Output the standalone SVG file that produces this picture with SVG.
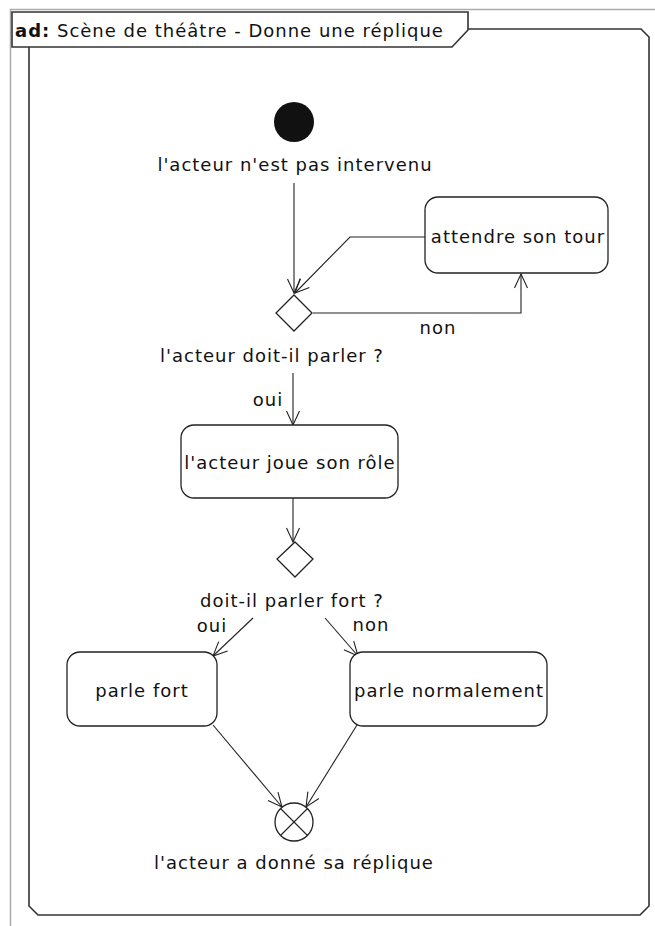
<svg xmlns="http://www.w3.org/2000/svg" width="655" height="926" viewBox="0 0 655 926">
<style>
text{font-family:"DejaVu Sans","Liberation Sans",sans-serif;font-size:18px;letter-spacing:1px;fill:#111;}
.t{text-anchor:middle;dominant-baseline:central;}
.box{fill:#fff;stroke:#222;stroke-width:1.3;}
.ln{fill:none;stroke:#222;stroke-width:1.1;}
.frame{fill:none;stroke:#333;stroke-width:1.6;}
</style>
<defs>
<marker id="arr" markerUnits="userSpaceOnUse" markerWidth="16" markerHeight="16" viewBox="0 0 16 16" refX="15" refY="8" orient="auto">
<path d="M1,1.5 L15,8 L1,14.5" fill="none" stroke="#222" stroke-width="1.1"/>
</marker>
</defs>
<rect x="0" y="0" width="655" height="926" fill="#fff"/>
<g id="outer">
<line x1="10" y1="9.5" x2="655" y2="9.5" stroke="#aaa" stroke-width="1.5"/>
<line x1="10.5" y1="9" x2="10.5" y2="926" stroke="#aaa" stroke-width="1.5"/>
</g>
<g id="frame">
<path class="frame" d="M29,47 L29,906 L38,915 L640,915 L649,906 L649,37 L641,29 L468,29"/>
<path class="frame" d="M12,12 L468,12 L468,30 L452,47 L12,47 Z" fill="#fff"/>
<text x="15" y="30" style="dominant-baseline:central"><tspan font-weight="bold">ad:</tspan> Scène de théâtre - Donne une réplique</text>
</g>
<g id="connectors">
<line class="ln" x1="294" y1="183" x2="294" y2="293" marker-end="url(#arr)"/>
<polyline class="ln" points="313,313 521,313 521,274" marker-end="url(#arr)"/>
<polyline class="ln" points="425,237 350,237 295,293" marker-end="url(#arr)"/>
<line class="ln" x1="293" y1="373" x2="293" y2="425" marker-end="url(#arr)"/>
<line class="ln" x1="293" y1="498" x2="293" y2="542" marker-end="url(#arr)"/>
<line class="ln" x1="253" y1="618" x2="213" y2="656" marker-end="url(#arr)"/>
<line class="ln" x1="325" y1="618" x2="358" y2="656" marker-end="url(#arr)"/>
<line class="ln" x1="213" y1="725" x2="282" y2="807" marker-end="url(#arr)"/>
<line class="ln" x1="357" y1="725" x2="306" y2="807" marker-end="url(#arr)"/>
<text class="t" x="438" y="327">non</text>
<text class="t" x="268" y="399">oui</text>
<text class="t" x="212" y="625">oui</text>
<text class="t" x="371" y="624">non</text>
</g>
<g id="initial">
<circle cx="294" cy="122" r="20" fill="#111"/>
<text class="t" x="295" y="164">l'acteur n'est pas intervenu</text>
</g>
<g id="attendre">
<rect class="box" x="425" y="197" width="183" height="76" rx="13"/>
<text class="t" x="518" y="236">attendre son tour</text>
</g>
<g id="decision1">
<polygon class="box" points="294,295 312,313 294,331 276,313"/>
<text class="t" x="272" y="355">l'acteur doit-il parler ?</text>
</g>
<g id="joue">
<rect class="box" x="181" y="425" width="217" height="73" rx="13"/>
<text class="t" x="290" y="462">l'acteur joue son rôle</text>
</g>
<g id="decision2">
<polygon class="box" points="295,542 313,559 295,577 277,559"/>
<text class="t" x="292" y="600">doit-il parler fort ?</text>
</g>
<g id="fort">
<rect class="box" x="67" y="652" width="150" height="74" rx="13"/>
<text class="t" x="142" y="690">parle fort</text>
</g>
<g id="normal">
<rect class="box" x="350" y="652" width="197" height="74" rx="13"/>
<text class="t" x="449" y="690">parle normalement</text>
</g>
<g id="final">
<circle class="box" cx="294" cy="822" r="19"/>
<line class="ln" x1="280.5" y1="808.5" x2="307.5" y2="835.5"/>
<line class="ln" x1="307.5" y1="808.5" x2="280.5" y2="835.5"/>
<text class="t" x="294" y="862">l'acteur a donné sa réplique</text>
</g>
</svg>
